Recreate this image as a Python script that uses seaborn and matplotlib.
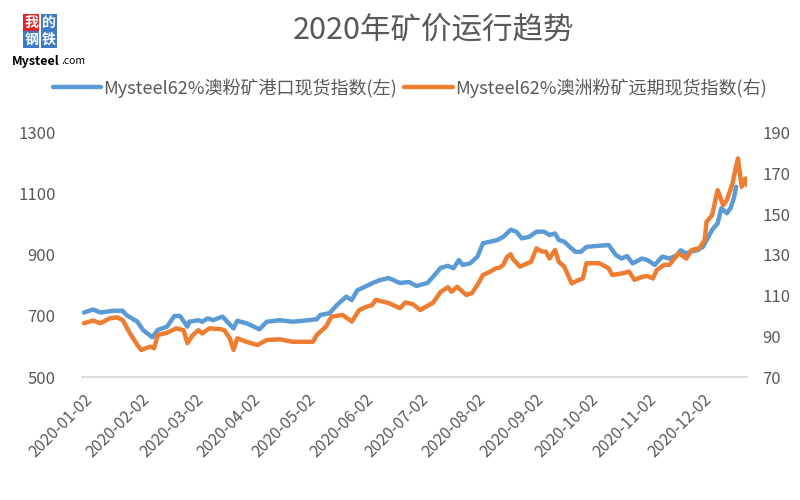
import pandas as pd
import matplotlib.pyplot as plt
import seaborn as sns

# Mysteel 62% Australian fines: port spot index (left axis, yuan) and forward index (right axis)
port_name = "Mysteel62%澳粉矿港口现货指数(左)"
port_dates = ["2020-01-02", "2020-01-07", "2020-01-11", "2020-01-18", "2020-01-23", "2020-01-25", "2020-01-31",
              "2020-02-03", "2020-02-08", "2020-02-09", "2020-02-11", "2020-02-16", "2020-02-20", "2020-02-23",
              "2020-02-27", "2020-02-28", "2020-03-04", "2020-03-06", "2020-03-09", "2020-03-12", "2020-03-17",
              "2020-03-23", "2020-03-25", "2020-03-30", "2020-04-03", "2020-04-06", "2020-04-10", "2020-04-17",
              "2020-04-24", "2020-04-29", "2020-05-07", "2020-05-09", "2020-05-14", "2020-05-18", "2020-05-23",
              "2020-05-26", "2020-05-29", "2020-06-03", "2020-06-06", "2020-06-10", "2020-06-15", "2020-06-21",
              "2020-06-26", "2020-06-30", "2020-07-06", "2020-07-09", "2020-07-13", "2020-07-17", "2020-07-20",
              "2020-07-23", "2020-07-25", "2020-07-29", "2020-08-02", "2020-08-05", "2020-08-09", "2020-08-13",
              "2020-08-16", "2020-08-20", "2020-08-23", "2020-08-26", "2020-08-30", "2020-09-03", "2020-09-07",
              "2020-09-10", "2020-09-13", "2020-09-15", "2020-09-18", "2020-09-21", "2020-09-24", "2020-09-27",
              "2020-09-30", "2020-10-07", "2020-10-12", "2020-10-16", "2020-10-19", "2020-10-22", "2020-10-25",
              "2020-10-30", "2020-11-02", "2020-11-06", "2020-11-10", "2020-11-14", "2020-11-18", "2020-11-20",
              "2020-11-23", "2020-11-25", "2020-11-29", "2020-12-02", "2020-12-05", "2020-12-07", "2020-12-10",
              "2020-12-12", "2020-12-15", "2020-12-17", "2020-12-19", "2020-12-20"]
port_values = [711, 721, 711, 717, 717, 703, 681,
               654, 630, 638, 654, 665, 700, 700, 665, 681,
               686, 681, 692, 686, 698, 659, 684, 676,
               665, 656, 681, 686, 681, 684,
               689, 703, 709, 736, 763, 752, 784,
               798, 807, 817, 824, 808, 811, 798,
               808, 828, 857, 864, 856, 883, 867, 872,
               894, 938, 943, 949, 959, 982, 976, 954, 959,
               976, 976, 965, 970, 949, 943, 926, 910, 910, 926,
               930, 932, 899, 888, 896, 872, 888,
               883, 867, 894, 888, 899, 915, 905, 910, 915,
               926, 959, 982, 1003, 1053, 1036, 1053, 1091, 1123]

fwd_name = "Mysteel62%澳洲粉矿远期现货指数(右)"
fwd_dates = ["2020-01-02", "2020-01-07", "2020-01-11", "2020-01-16", "2020-01-20", "2020-01-23", "2020-01-27",
             "2020-01-31", "2020-02-02", "2020-02-07", "2020-02-09", "2020-02-11", "2020-02-16", "2020-02-21",
             "2020-02-25", "2020-02-27", "2020-03-01", "2020-03-04", "2020-03-06", "2020-03-10", "2020-03-16",
             "2020-03-18", "2020-03-21", "2020-03-23", "2020-03-25", "2020-03-30", "2020-04-05", "2020-04-10",
             "2020-04-17", "2020-04-24", "2020-05-05", "2020-05-07", "2020-05-12", "2020-05-15", "2020-05-21",
             "2020-05-26", "2020-05-30", "2020-06-03", "2020-06-06", "2020-06-08", "2020-06-15", "2020-06-21",
             "2020-06-24", "2020-06-28", "2020-07-02", "2020-07-09", "2020-07-13", "2020-07-17", "2020-07-19",
             "2020-07-22", "2020-07-24", "2020-07-27", "2020-07-30", "2020-08-02", "2020-08-05", "2020-08-09",
             "2020-08-12", "2020-08-14", "2020-08-16", "2020-08-18", "2020-08-20", "2020-08-21", "2020-08-25",
             "2020-08-28", "2020-08-31", "2020-09-03", "2020-09-06", "2020-09-08", "2020-09-10", "2020-09-13",
             "2020-09-15", "2020-09-18", "2020-09-20", "2020-09-22", "2020-09-26", "2020-09-28", "2020-09-30",
             "2020-10-07", "2020-10-12", "2020-10-14", "2020-10-20", "2020-10-23", "2020-10-26", "2020-10-30",
             "2020-11-02", "2020-11-05", "2020-11-07", "2020-11-11", "2020-11-14", "2020-11-16", "2020-11-19",
             "2020-11-23", "2020-11-26", "2020-11-30", "2020-12-03", "2020-12-04", "2020-12-07", "2020-12-10",
             "2020-12-13", "2020-12-15", "2020-12-18", "2020-12-21", "2020-12-23", "2020-12-25", "2020-12-26"]
fwd_values = [96.4, 97.7, 96.4, 98.8, 99.3, 98.0, 91.4, 85.7,
              83.3, 84.9, 84.1, 90.6, 91.7, 93.9, 93.0, 86.6,
              90.6, 93.0, 91.4, 93.9, 93.5, 93.0, 89.0, 83.3, 89.0, 87.3,
              85.7, 88.2, 88.5, 87.3,
              87.3, 90.6, 94.7, 99.6, 100.5, 97.2, 102.9,
              104.5, 105.3, 107.9, 106.3, 103.8, 106.6, 105.8,
              102.9, 106.5, 111.7, 114.1, 111.9, 114.3, 112.7, 110.3, 111.2,
              115.2, 120.1, 121.8, 123.4, 123.7, 125.1, 129.0, 130.3, 128.2, 124.2, 125.4, 126.6,
              133.2, 131.6, 131.6, 128.2, 132.4, 126.6, 124.2, 120.1, 116.0, 117.7, 118.4, 125.9,
              125.9, 123.4, 120.1, 121.0, 121.8, 117.7, 119.2,
              119.6, 118.4, 122.5, 125.1, 125.1, 127.6, 130.8, 128.2, 132.4, 133.2,
              137.3, 146.2, 149.5, 161.8, 154.4, 156.9, 165.0, 177.4, 163.4, 167.5, 164.2]

tick_dates = ["2020-01-02", "2020-02-02", "2020-03-02", "2020-04-02", "2020-05-02", "2020-06-02",
              "2020-07-02", "2020-08-02", "2020-09-02", "2020-10-02", "2020-11-02", "2020-12-02"]
left_ticks = [500, 700, 900, 1100, 1300]
right_ticks = [70, 90, 110, 130, 150, 170, 190]

port = pd.DataFrame({"date": pd.to_datetime(port_dates), "value": port_values})
fwd = pd.DataFrame({"date": pd.to_datetime(fwd_dates), "value": fwd_values})

sns.set_style("white")
plt.rcParams["font.family"] = ["Noto Sans CJK SC", "DejaVu Sans"]
grey = "#595959"

fig = plt.figure(figsize=(8, 5), dpi=100)
ax = fig.add_axes([0.1025, 0.246, 0.8315, 0.4886])
ax2 = ax.twinx()

sns.lineplot(data=port, x="date", y="value", ax=ax, color="#5B9BD5", linewidth=3.2, label=port_name, legend=False)
sns.lineplot(data=fwd, x="date", y="value", ax=ax2, color="#ED7D31", linewidth=3.2, label=fwd_name, legend=False)

ax.set_xlim(pd.Timestamp("2020-01-01"), pd.Timestamp("2020-12-26"))
ax.set_ylim(500, 1300)
ax2.set_ylim(70, 190)
ax.set_yticks(left_ticks)
ax2.set_yticks(right_ticks)
ax.set_xticks(pd.to_datetime(tick_dates))
ax.set_xticklabels(tick_dates, rotation=45, ha="right", rotation_mode="anchor")
for a in (ax, ax2):
    a.set_xlabel("")
    a.set_ylabel("")
    a.grid(False)
    for s in a.spines.values():
        s.set_visible(False)
ax.spines["bottom"].set_visible(True)
ax.spines["bottom"].set_color("#D9D9D9")
ax.spines["bottom"].set_linewidth(1.3)

ax.tick_params(axis="y", length=0, pad=19, labelsize=12, labelcolor=grey)
ax2.tick_params(axis="y", length=0, pad=11, labelsize=12, labelcolor=grey)
ax.tick_params(axis="x", length=0, pad=10, labelsize=11.5, labelcolor=grey)

# title and legend
fig.text(0.5425, 0.94, "2020年矿价运行趋势", ha="center", va="center", fontsize=22, color=grey)
fig.legend(handles=[ax.lines[0], ax2.lines[0]], labels=[port_name, fwd_name], loc="center",
           bbox_to_anchor=(0.512, 0.824), ncol=2, frameon=False, fontsize=13, labelcolor=grey,
           handlelength=2.7, handletextpad=0.1, columnspacing=0.4)

# small Mysteel logo
logo = [("我", 0.039, 0.955, "#E0262B"), ("的", 0.061, 0.955, "#3D7BC4"),
        ("钢", 0.039, 0.921, "#3D7BC4"), ("铁", 0.061, 0.921, "#3D7BC4")]
for ch, lx, ly, bg in logo:
    fig.text(lx, ly, ch, ha="center", va="center", fontsize=10, color="white", weight="bold",
             bbox=dict(boxstyle="square,pad=0.08", fc=bg, ec="none"))
fig.text(0.015, 0.877, "Mysteel", ha="left", va="center", fontsize=9, weight="bold", color="black")
fig.text(0.077, 0.877, ".com", ha="left", va="center", fontsize=7.5, color="black")

plt.savefig("out.png", dpi=100)
